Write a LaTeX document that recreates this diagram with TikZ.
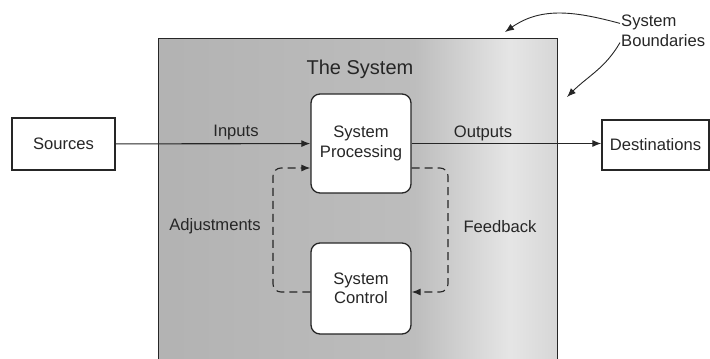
\documentclass[tikz,border=0pt]{standalone}
\usepackage{fontspec}
\setmainfont{Liberation Sans}
\usetikzlibrary{arrows.meta}

\pgfdeclarehorizontalshading{sysshade}{100bp}{color(0bp)=(gray!60); color(25bp)=(gray!60); color(57bp)=(gray!52); color(69bp)=(gray!20); color(75bp)=(gray!32); color(100bp)=(gray!32)}

\begin{document}
\begin{tikzpicture}[x=1pt, y=1pt, font=\fontsize{16.6}{19.5}\selectfont]
	\tikzstyle{every node}=[align=center, inner sep=1pt, text=black!85]
	\tikzstyle{box}=[draw=black!85, line width=1.3pt, fill=white, minimum width=100pt, minimum height=99pt, rounded corners=9pt]
	\tikzstyle{ext}=[draw=black!85, line width=1.2pt, fill=white]
	\tikzstyle{arr}=[-{Latex[length=9pt,width=7pt]}, line width=1.1pt, draw=black!85]
	\tikzstyle{dsh}=[arr, dash pattern=on 8pt off 5pt, rounded corners=8pt]

	\useasboundingbox (0,0) rectangle (710,359);
	\begin{scope}
		\clip (0,0) rectangle (710,359);
		\node[draw=black!85, line width=1.3pt, shade, shading=sysshade, minimum width=399pt, minimum height=341pt, anchor=north west, inner sep=0pt] (sys) at (158,321) {};
	\end{scope}

	\node (title) at (360, 290) {\fontsize{20}{23}\selectfont The System};
	\node[box] (proc) at (361, 215.5) {System\\Processing};
	\node[box, minimum height=91pt] (ctrl) at (361, 70.5) {System\\Control};
	\node[ext, minimum width=103pt, minimum height=52pt] (src) at (63.5, 215) {Sources};
	\node[ext, minimum width=107pt, minimum height=50pt] (dest) at (655.5, 214) {Destinations};

	\node (inp) at (236, 226) {Inputs};
	\node (outp) at (483, 226) {Outputs};
	\node (adj) at (215, 133) {Adjustments};
	\node (fdb) at (500, 132) {Feedback};
	\node[anchor=west, align=left] (bound) at (620, 328) {System\\Boundaries};

	\coordinate (hi) at (0, 191);
	\coordinate (lo) at (0, 67);
	\coordinate (btop) at (505, 327);
	\coordinate (bside) at (567, 262);

	\draw[arr] (src) -- (proc);
	\draw[arr] (proc.east) -- (dest.west |- proc.east);
	\draw[dsh] (proc.east |- hi) -- (448, 191) -- (448, 67) -- (ctrl.east |- lo);
	\draw[dsh] (ctrl.west |- lo) -- (273, 67) -- (273, 191) -- (proc.west |- hi);
	\draw[arr, line width=0.9pt] (bound.170) to[out=165, in=35] (btop);
	\draw[arr, line width=0.9pt] (bound.195) to[out=240, in=45] (bside);
\end{tikzpicture}
\end{document}
